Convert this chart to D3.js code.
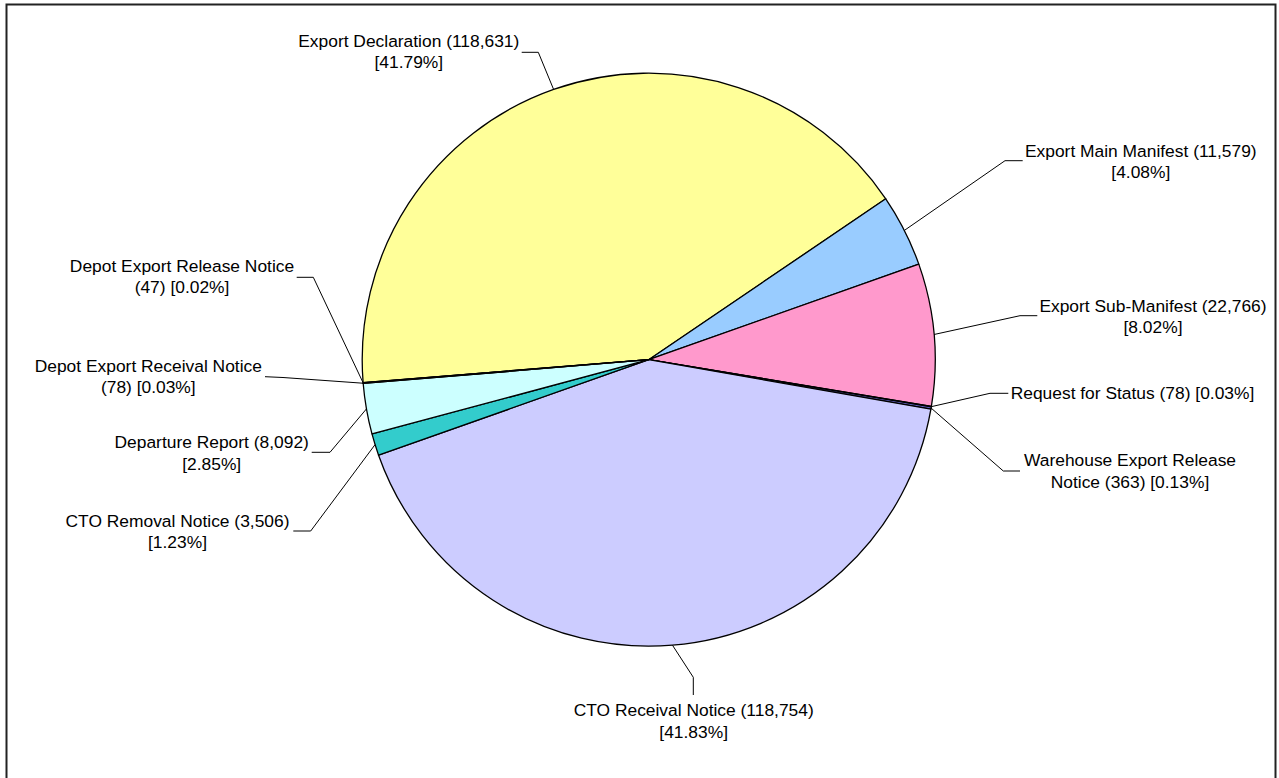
<!DOCTYPE html>
<html>
<head>
<meta charset="utf-8">
<script src="https://cdn.jsdelivr.net/npm/d3@7"></script>
<style>
  html, body { margin: 0; padding: 0; background: #fff; }
  svg { display: block; }
  text { font-family: "Liberation Sans", Arial, sans-serif; font-size: 17.4px; fill: #000; }
</style>
</head>
<body>
<svg id="chart" width="1279" height="778"></svg>
<script>
// ---- data ----
const categories = [
  "Export Declaration",
  "Export Main Manifest",
  "Export Sub-Manifest",
  "Request for Status",
  "Warehouse Export Release Notice",
  "CTO Receival Notice",
  "CTO Removal Notice",
  "Departure Report",
  "Depot Export Receival Notice",
  "Depot Export Release Notice"
];
const values = [118631, 11579, 22766, 78, 363, 118754, 3506, 8092, 78, 47];
const colors = ["#FFFF99", "#99CCFF", "#FF99CC", "#CC99FF", "#6666CC",
                "#CCCCFF", "#33CCCC", "#CCFFFF", "#FFCC99", "#FF8080"];

// ---- label layout (not data): text centre, first baseline, words on line 1, attach point, elbow ----
const labelLayout = [
  { cx: 408.8,  by: 46.7,  split: 3, ax: 521.7, ay: 52.3,  ex: 538.3, ey: 52.3 },
  { cx: 1140.8, by: 156.7, split: 4, ax: 1022.7, ay: 160.7, ex: 1005,  ey: 160.7 },
  { cx: 1153,   by: 311.7, split: 3, ax: 1037.3, ay: 315.7, ex: 1020,  ey: 315.7 },
  { cx: 1132.5, by: 399.3, split: 6, ax: 1008.3, ay: 393.3, ex: 990,   ey: 393.3 },
  { cx: 1130,   by: 466,   split: 3, ax: 1020,  ay: 471,   ex: 1003.3, ey: 471 },
  { cx: 693.7,  by: 716,   split: 4, ax: 693.3, ay: 695,   ex: 693.3, ey: 677.3 },
  { cx: 177.5,  by: 526.7, split: 4, ax: 293.3, ay: 531,   ex: 310.7, ey: 531 },
  { cx: 211.7,  by: 448.3, split: 3, ax: 311.7, ay: 452.3, ex: 330,   ey: 452.3 },
  { cx: 148.3,  by: 371.7, split: 4, ax: 265,   ay: 376.7, ex: 283,   ey: 377.5 },
  { cx: 182,    by: 271.7, split: 4, ax: 296.7, ay: 277.3, ex: 313.3, ey: 277.3 }
];

const svg = d3.select("#chart");

// chart area border
svg.append("rect")
  .attr("x", 6.5).attr("y", 4.5)
  .attr("width", 1269).attr("height", 800)
  .attr("fill", "#fff")
  .attr("stroke", "#222").attr("stroke-width", 2);

const cx = 648.7, cy = 359.7, R = 286.5;
const startA = -94.6 * Math.PI / 180;

const pie = d3.pie().sort(null).value(d => d.value)
  .startAngle(startA).endAngle(startA + 2 * Math.PI);
const rows = categories.map((c, i) => ({ name: c, value: values[i], color: colors[i] }));
const arcs = pie(rows);
const total = d3.sum(values);

const arc = d3.arc().innerRadius(0).outerRadius(R);

const g = svg.append("g").attr("transform", `translate(${cx},${cy})`);
g.selectAll("path.slice").data(arcs).enter().append("path")
  .attr("class", "slice")
  .attr("d", arc)
  .attr("fill", d => d.data.color)
  .attr("stroke", "#000")
  .attr("stroke-width", 1.3)
  .attr("stroke-linejoin", "round");

const fmt = d3.format(",");
const pctFmt = d3.format(".2f");

const lg = svg.append("g");
arcs.forEach((a, i) => {
  const L = labelLayout[i];
  const mid = (a.startAngle + a.endAngle) / 2;
  const px = cx + R * Math.sin(mid), py = cy - R * Math.cos(mid);
  lg.append("polyline")
    .attr("points", `${px},${py} ${L.ex},${L.ey} ${L.ax},${L.ay}`)
    .attr("fill", "none").attr("stroke", "#000").attr("stroke-width", 1);

  const full = `${a.data.name} (${fmt(a.data.value)}) [${pctFmt(a.data.value / total * 100)}%]`;
  const words = full.split(" ");
  const lines = [words.slice(0, L.split).join(" ")];
  if (L.split < words.length) lines.push(words.slice(L.split).join(" "));
  const t = lg.append("text").attr("text-anchor", "middle")
    .attr("x", L.cx).attr("y", L.by);
  lines.forEach((ln, k) => {
    t.append("tspan").attr("x", L.cx).attr("y", L.by + k * 21.6).text(ln);
  });
});
</script>
</body>
</html>
